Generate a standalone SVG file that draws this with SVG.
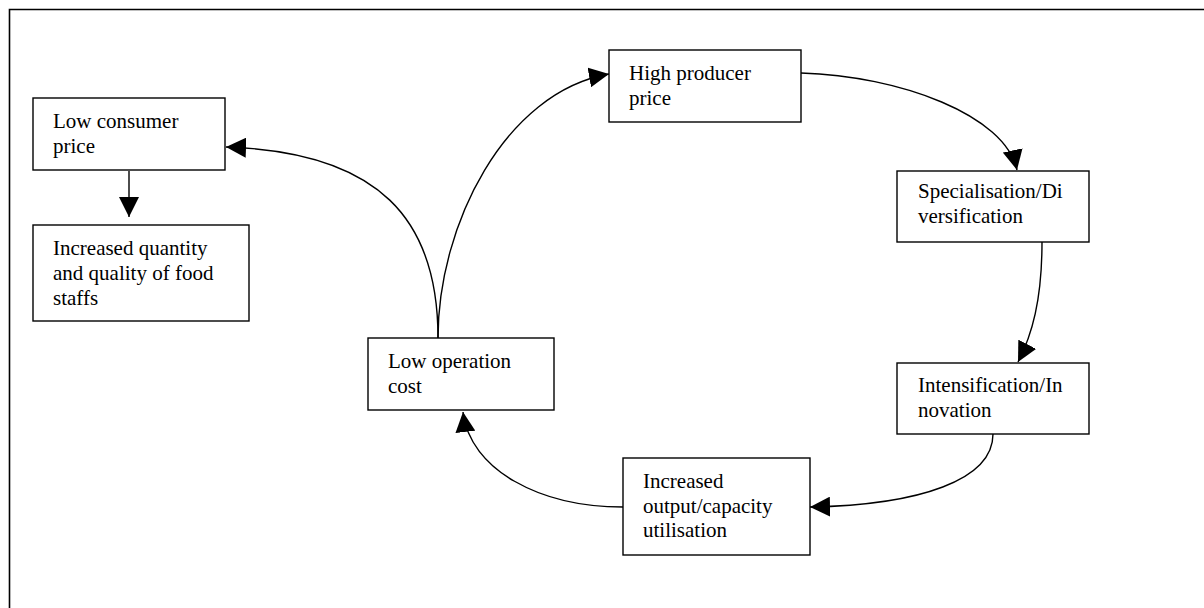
<svg xmlns="http://www.w3.org/2000/svg" width="1204" height="608" viewBox="0 0 1204 608">
<style>
.box{fill:#fff;stroke:#000;stroke-width:1.4}
.t{font-family:"Liberation Serif","Times New Roman",serif;font-size:21px;fill:#000}
.c{fill:none;stroke:#000;stroke-width:1.4}
.frame{fill:none;stroke:#000;stroke-width:1.6}
</style>
<defs>
<marker id="ah" markerUnits="userSpaceOnUse" markerWidth="20" markerHeight="20" refX="20" refY="10" orient="auto" viewBox="0 0 20 20">
<path d="M0,0 L20,10 L0,20 z" fill="#000"/>
</marker>
</defs>
<rect width="1204" height="608" fill="#fff"/>
<path class="frame" d="M9.5,612 L9.5,9.5 L1210,9.5"/>
<g id="connectors">
<path class="c" d="M129,171 L129,217" marker-end="url(#ah)"/>
<path class="c" d="M438,338 C438,220 380,152 226,147" marker-end="url(#ah)"/>
<path class="c" d="M438,338 C438,225 505,92 609,74" marker-end="url(#ah)"/>
<path class="c" d="M801,73 C900,76 1005,115 1017,170" marker-end="url(#ah)"/>
<path class="c" d="M1042,242 C1042,300 1032,335 1018,362" marker-end="url(#ah)"/>
<path class="c" d="M993,434 C993,480 920,505 810,507" marker-end="url(#ah)"/>
<path class="c" d="M623,507 C540,507 470,470 463,412" marker-end="url(#ah)"/>
</g>
<g id="low-consumer-price">
<rect class="box" x="33" y="98" width="192" height="72"/>
<text class="t" x="53" y="128">Low consumer</text>
<text class="t" x="53" y="153">price</text>
</g>
<g id="increased-quantity">
<rect class="box" x="33" y="225" width="216" height="96"/>
<text class="t" x="53" y="255">Increased quantity</text>
<text class="t" x="53" y="280">and quality of food</text>
<text class="t" x="53" y="305">staffs</text>
</g>
<g id="high-producer-price">
<rect class="box" x="609" y="50" width="192" height="72"/>
<text class="t" x="629" y="80">High producer</text>
<text class="t" x="629" y="105">price</text>
</g>
<g id="specialisation">
<rect class="box" x="897" y="171" width="192" height="71"/>
<text class="t" x="918" y="198">Specialisation/Di</text>
<text class="t" x="918" y="223">versification</text>
</g>
<g id="intensification">
<rect class="box" x="897" y="363" width="192" height="71"/>
<text class="t" x="918" y="392">Intensification/In</text>
<text class="t" x="918" y="417">novation</text>
</g>
<g id="increased-output">
<rect class="box" x="623" y="458" width="187" height="97"/>
<text class="t" x="643" y="488">Increased</text>
<text class="t" x="643" y="513">output/capacity</text>
<text class="t" x="643" y="537">utilisation</text>
</g>
<g id="low-operation-cost">
<rect class="box" x="368" y="338" width="186" height="72"/>
<text class="t" x="388" y="368">Low operation</text>
<text class="t" x="388" y="393">cost</text>
</g>
</svg>
